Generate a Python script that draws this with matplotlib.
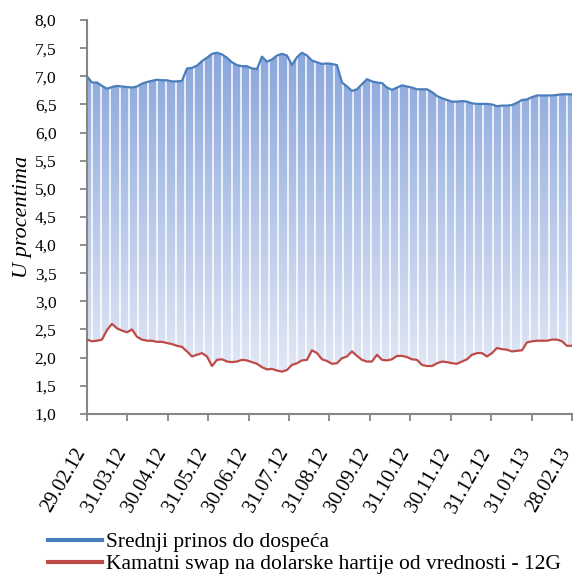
import numpy as np
import matplotlib
matplotlib.use('Agg')
import matplotlib.pyplot as plt
import matplotlib.transforms as mtransforms
from matplotlib.lines import Line2D

# Datos (lectura aproximada del grafico)
fechas = ['29.02.12', '31.03.12', '30.04.12', '31.05.12', '30.06.12', '31.07.12',
          '31.08.12', '30.09.12', '31.10.12', '30.11.12', '31.12.12', '31.01.13', '28.02.13']

prinos = [7.00, 6.89, 6.89, 6.83, 6.78, 6.81, 6.83, 6.82, 6.81, 6.80,
          6.82, 6.87, 6.90, 6.92, 6.94, 6.93, 6.93, 6.91, 6.91, 6.92,
          7.14, 7.15, 7.19, 7.27, 7.33, 7.40, 7.42, 7.39, 7.33, 7.25,
          7.20, 7.18, 7.18, 7.14, 7.13, 7.35, 7.26, 7.30, 7.37, 7.40,
          7.37, 7.20, 7.34, 7.42, 7.37, 7.28, 7.25, 7.22, 7.23, 7.22,
          7.20, 6.89, 6.82, 6.74, 6.77, 6.86, 6.95, 6.91, 6.89, 6.88,
          6.80, 6.76, 6.80, 6.84, 6.82, 6.80, 6.77, 6.77, 6.77, 6.72,
          6.65, 6.61, 6.58, 6.55, 6.55, 6.56, 6.55, 6.52, 6.51, 6.51,
          6.51, 6.50, 6.47, 6.48, 6.48, 6.49, 6.53, 6.58, 6.59, 6.63,
          6.66, 6.66, 6.66, 6.66, 6.67, 6.68, 6.68, 6.68]

swap = [2.32, 2.29, 2.30, 2.32, 2.49, 2.60, 2.52, 2.48, 2.45, 2.50,
        2.37, 2.32, 2.30, 2.30, 2.28, 2.28, 2.26, 2.24, 2.21, 2.19,
        2.11, 2.02, 2.05, 2.08, 2.02, 1.85, 1.96, 1.97, 1.93, 1.92,
        1.93, 1.96, 1.95, 1.92, 1.89, 1.83, 1.79, 1.80, 1.77, 1.75,
        1.78, 1.87, 1.90, 1.95, 1.96, 2.13, 2.08, 1.97, 1.94, 1.89,
        1.90, 1.99, 2.02, 2.11, 2.03, 1.96, 1.93, 1.93, 2.05, 1.96,
        1.95, 1.97, 2.03, 2.03, 2.01, 1.97, 1.96, 1.87, 1.85, 1.85,
        1.90, 1.93, 1.92, 1.90, 1.89, 1.93, 1.97, 2.05, 2.08, 2.08,
        2.02, 2.08, 2.17, 2.15, 2.14, 2.11, 2.12, 2.13, 2.27, 2.29,
        2.30, 2.30, 2.30, 2.32, 2.32, 2.29, 2.21, 2.21]

plt.rcParams['font.family'] = ['Liberation Serif', 'DejaVu Serif']

x = np.linspace(0, len(fechas) - 1, len(prinos))
gris = '#868686'

fig = plt.figure(figsize=(5.76, 5.74), dpi=100)
ax = fig.add_axes([0.151, 0.279, 0.842, 0.686])

# Relleno con degradado entre las dos series
poly = ax.fill_between(x, swap, prinos, color='none', lw=0)
grad = np.linspace(0, 1, 256).reshape(-1, 1)
top = np.array([138, 166, 221]) / 255
bot = np.array([226, 232, 245]) / 255
img = top * (1 - grad[..., None]) + bot * grad[..., None]
im = ax.imshow(img, extent=[0, 12, 1.7, 7.45], aspect='auto', origin='upper', zorder=1)
im.set_clip_path(poly.get_paths()[0], transform=ax.transData)

# Lineas blancas semanales
n_sem = 52
for j in range(n_sem):
    xs = (j + 0.5) * 12 / n_sem
    ln = ax.axvline(xs, color='white', lw=1.1, zorder=2)
    ln.set_clip_path(poly.get_paths()[0], transform=ax.transData)

ax.plot(x, prinos, color='#4a7ebb', lw=1.6, zorder=3)
ax.plot(x, swap, color='#be4b48', lw=1.6, zorder=3)

ax.set_xlim(0, 12)
ax.set_ylim(1, 8)
ax.set_yticks(np.arange(1, 8.01, 0.5))
ax.set_yticklabels([f'{v:.1f}'.replace('.', ',') for v in np.arange(1, 8.01, 0.5)], fontsize=12.5)
ax.set_xticks(range(len(fechas)))
ax.set_xticklabels(fechas, rotation=60, ha='right', va='center', rotation_mode='anchor', fontsize=14.5)
ax.tick_params(axis='both', color=gris, width=1.3, length=5)
ax.tick_params(axis='y', pad=17)
ax.tick_params(axis='x', pad=21)

# pequeño desplazamiento de las etiquetas del eje x
offset = mtransforms.ScaledTranslation(-5 / 100, 0, fig.dpi_scale_trans)
for lbl in ax.get_xticklabels():
    lbl.set_transform(lbl.get_transform() + offset)

for s in ['top', 'right']:
    ax.spines[s].set_visible(False)
for s in ['left', 'bottom']:
    ax.spines[s].set_color(gris)
    ax.spines[s].set_linewidth(1.5)

ax.set_ylabel('U procentima', fontsize=16, style='italic', labelpad=2)

handles = [Line2D([], [], color='#4a7ebb', lw=3),
           Line2D([], [], color='#be4b48', lw=3)]
fig.legend(handles, ['Srednji prinos do dospeća',
                     'Kamatni swap na dolarske hartije od vrednosti - 12G'],
           loc='lower left', bbox_to_anchor=(0.05, -0.034), frameon=False,
           fontsize=15.5, handlelength=2.5, handletextpad=0.2, labelspacing=0.08)

fig.savefig('out.png', dpi=100)
